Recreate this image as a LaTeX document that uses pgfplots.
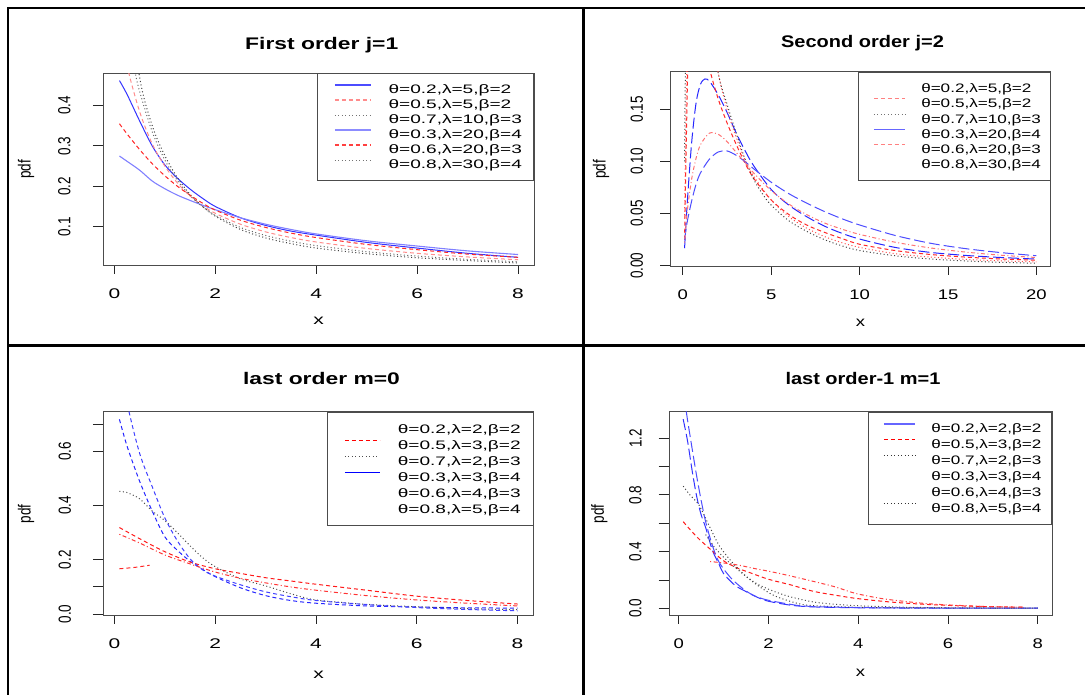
\documentclass[border=0pt]{standalone}
\usepackage{fontspec}
\setmainfont{Liberation Sans}
\newfontfamily\fN{Liberation Sans}
\newfontfamily\fL{Liberation Sans}[FakeStretch=1.5]
\newfontfamily\fR{Liberation Sans}[FakeStretch=1.32]
\newfontfamily\tL{Liberation Sans}[FakeStretch=1.36]
\newfontfamily\tR{Liberation Sans}[FakeStretch=1.19]
\newfontfamily\lL{Liberation Sans}[FakeStretch=1.55]
\newfontfamily\lR{Liberation Sans}[FakeStretch=1.39]
\usepackage{graphicx}
\usepackage{pgfplots}
\pgfplotsset{compat=1.18}

% rotated labels: R output was stretched sideways
\newcommand{\rl}[1]{\scalebox{1}[1.3]{\fN\fontsize{13.5}{14}\selectfont #1}}

\tikzset{
  rdash/.style={dash pattern=on 4pt off 3pt},
  rdot/.style={dash pattern=on 1pt off 2.5pt},
  rlong/.style={dash pattern=on 11pt off 4pt},
  rdashdot/.style={dash pattern=on 1pt off 2.5pt on 4pt off 2.5pt},
}

\pgfplotsset{
  rbase/.style={
    scale only axis, anchor=south west, clip=true,
    axis line style={black!70, line width=0.9pt},
    tick pos=left, tick align=outside,
    tick style={black!85, line width=0.9pt},
    xtick style={/pgfplots/major tick length=8pt},
    ytick style={/pgfplots/major tick length=10.5pt},
    minor tick num=0, scaled ticks=false,
    legend cell align=left,
  },
  % #1 left pad, #2 sample length, #3 gap, #4 text width, #5 text height, #6 text depth
  rleg/.style n args={6}{
    legend style={at={(1,1)}, anchor=north east, draw=black!70, line width=0.9pt,
      fill=white, inner xsep=0pt, row sep=0pt,
      nodes={inner sep=0pt, text width=#4, align=left, text height=#5, text depth=#6},
      /tikz/every odd column/.append style={column sep=#3}},
    legend image code/.code={\path[draw=none] (0pt,0pt) -- (#1+#2,0pt);
      \draw[line cap=butt, ##1] (#1,4.5pt) -- (#1+#2,4.5pt);},
  },
}

\begin{document}
\begin{tikzpicture}[x=1pt,y=1pt]
\useasboundingbox (0,0) rectangle (1085,695);

% table frame
\draw[line width=2.7pt] (8,0) -- (8,687) -- (1085,687);
\draw[line width=2.7pt] (583.5,0) -- (583.5,687);
\draw[line width=2.7pt] (8,349.5) -- (1085,349.5);

%------------------------------------------------ First order
\begin{axis}[rbase,
  at={(103.5pt,429.3pt)}, width=430.5pt, height=192.4pt,
  xmin=-0.216, xmax=8.316, ymin=0.0033, ymax=0.480,
  xtick={0,2,4,6,8}, xticklabels={0,2,4,6,8},
  ytick={0.1,0.2,0.3,0.4}, yticklabels={\rl{0.1},\rl{0.2},\rl{0.3},\rl{0.4}},
  xticklabel style={font=\fL\fontsize{14}{14}\selectfont, anchor=base, yshift=-28.5pt},
  yticklabel style={xshift=-34.9pt, rotate=90, anchor=center},
  title={First order j=1},
  every axis title/.style={at={(axis description cs:0.5,1)}, anchor=base, yshift=24pt, xshift=3pt,
    font=\tL\bfseries\fontsize{16.8}{18}\selectfont},
  xlabel={x},
  every axis x label/.style={at={(axis description cs:0.5,0)}, anchor=base, yshift=-58.6pt,
    font=\fL\fontsize{14}{14}\selectfont},
  ylabel={\rl{pdf}},
  every axis y label/.style={at={(axis description cs:-0.180,0.5)}, rotate=90, anchor=center},
  rleg={17.7pt}{35.7pt}{17.3pt}{145pt}{11.9pt}{3.1pt},
  legend style={inner ysep=8.35pt, font=\lL\fontsize{12.3}{14}\selectfont},
]
\addplot[forget plot, smooth, blue!80, line width=1pt] coordinates {
(0.1,0.462)(0.25,0.428)(0.5,0.362)(0.75,0.300)(1,0.253)(1.25,0.220)(1.5,0.193)(1.75,0.170)
(2,0.150)(2.5,0.122)(3,0.103)(3.5,0.089)(4,0.079)(5,0.061)(6,0.047)(7,0.034)(8,0.024)};
\addplot[forget plot, smooth, red!45, line width=1pt, rdash] coordinates {
(0.1,0.620)(0.25,0.500)(0.5,0.385)(0.75,0.305)(1,0.250)(1.25,0.208)(1.5,0.176)(1.75,0.152)
(2,0.133)(2.5,0.106)(3,0.087)(3.5,0.073)(4,0.062)(5,0.046)(6,0.034)(7,0.025)(8,0.018)};
\addplot[forget plot, smooth, black!75, line width=1pt, rdot] coordinates {
(0.1,0.900)(0.25,0.720)(0.5,0.470)(0.75,0.350)(1,0.276)(1.25,0.221)(1.5,0.180)(1.75,0.150)
(2,0.126)(2.5,0.093)(3,0.072)(3.5,0.058)(4,0.047)(5,0.033)(6,0.023)(7,0.016)(8,0.010)};
\addplot[forget plot, smooth, blue!50, line width=1.1pt] coordinates {
(0.1,0.275)(0.25,0.262)(0.5,0.240)(0.75,0.213)(1,0.194)(1.25,0.178)(1.5,0.165)(1.75,0.153)
(2,0.142)(2.5,0.122)(3,0.106)(3.5,0.093)(4,0.082)(5,0.065)(6,0.052)(7,0.040)(8,0.031)};
\addplot[forget plot, smooth, red!85, line width=1pt, rdash] coordinates {
(0.1,0.355)(0.25,0.330)(0.5,0.291)(0.75,0.256)(1,0.226)(1.25,0.200)(1.5,0.178)(1.75,0.158)
(2,0.141)(2.5,0.116)(3,0.098)(3.5,0.084)(4,0.073)(5,0.056)(6,0.043)(7,0.032)(8,0.024)};
\addplot[forget plot, smooth, black!60, line width=1pt, rdot] coordinates {
(0.1,0.760)(0.25,0.600)(0.4,0.490)(0.5,0.435)(0.75,0.335)(1,0.265)(1.25,0.214)(1.5,0.177)
(1.75,0.149)(2,0.128)(2.5,0.098)(3,0.078)(3.5,0.064)(4,0.053)(5,0.038)(6,0.027)(7,0.019)(8,0.013)};
\addlegendimage{draw=blue!70, line width=1.2pt}
\addlegendentry{θ=0.2,λ=5,β=2}
\addlegendimage{draw=red!45, line width=1.2pt, rdash}
\addlegendentry{θ=0.5,λ=5,β=2}
\addlegendimage{draw=black!55, line width=1pt, rdot}
\addlegendentry{θ=0.7,λ=10,β=3}
\addlegendimage{draw=blue!45, line width=1.4pt}
\addlegendentry{θ=0.3,λ=20,β=4}
\addlegendimage{draw=red!75, line width=1.2pt, rdash}
\addlegendentry{θ=0.6,λ=20,β=3}
\addlegendimage{draw=black!55, line width=1pt, rdot}
\addlegendentry{θ=0.8,λ=30,β=4}
\end{axis}

%------------------------------------------------ Second order
\begin{axis}[rbase,
  at={(670.5pt,428.3pt)}, width=380pt, height=195pt,
  xmin=-0.696, xmax=20.796, ymin=-0.001, ymax=0.186,
  xtick={0,5,10,15,20}, xticklabels={0,5,10,15,20},
  ytick={0,0.05,0.1,0.15}, yticklabels={\rl{0.00},\rl{0.05},\rl{0.10},\rl{0.15}},
  xticklabel style={font=\fR\fontsize{14}{14}\selectfont, anchor=base, yshift=-28.5pt},
  yticklabel style={xshift=-29.5pt, rotate=90, anchor=center},
  title={Second order j=2},
  every axis title/.style={at={(axis description cs:0.5,1)}, anchor=base, yshift=24.4pt, xshift=2pt,
    font=\tR\bfseries\fontsize{16.8}{18}\selectfont},
  xlabel={x},
  every axis x label/.style={at={(axis description cs:0.5,0)}, anchor=base, yshift=-60pt,
    font=\fR\fontsize{14}{14}\selectfont},
  ylabel={\rl{pdf}},
  every axis y label/.style={at={(axis description cs:-0.183,0.5)}, rotate=90, anchor=center},
  rleg={15pt}{31.7pt}{15pt}{128.8pt}{12.05pt}{3.25pt},
  legend style={inner ysep=8.25pt, font=\lR\fontsize{12.3}{14}\selectfont},
]
\addplot[forget plot, smooth, blue!85, line width=1pt, rlong] coordinates {
(0.1,0.0167)(0.25,0.060)(0.5,0.118)(0.75,0.156)(1,0.174)(1.25,0.179)(1.5,0.177)(2,0.164)
(2.5,0.147)(3,0.128)(3.5,0.111)(4,0.096)(5,0.073)(6,0.058)(7,0.047)(8,0.038)(9,0.031)
(10,0.0255)(12,0.0175)(14,0.0127)(16,0.0098)(18,0.0078)(20,0.0063)};
\addplot[forget plot, smooth, red!85, line width=1pt, rdash] coordinates {
(0.1,0.025)(0.2,0.120)(0.3,0.200)(0.5,0.260)(1,0.235)(1.5,0.190)(2,0.160)(2.5,0.137)
(3,0.117)(3.5,0.099)(4,0.084)(5,0.063)(6,0.049)(7,0.039)(8,0.032)(9,0.026)(10,0.0205)
(12,0.0145)(14,0.0107)(16,0.0082)(18,0.0064)(20,0.0052)};
\addplot[forget plot, smooth, black!75, line width=1pt, rdot] coordinates {
(0.1,0.100)(0.15,0.190)(0.3,0.320)(0.5,0.400)(1,0.370)(1.5,0.250)(2,0.185)(2.5,0.155)
(3,0.128)(3.5,0.103)(4,0.083)(4.5,0.069)(5,0.058)(6,0.043)(7,0.033)(8,0.025)(9,0.019)
(10,0.0145)(12,0.0095)(14,0.0064)(16,0.0045)(18,0.0032)(20,0.0023)};
\addplot[forget plot, smooth, blue!70, line width=1pt, rlong] coordinates {
(0.1,0.025)(0.25,0.042)(0.5,0.062)(0.75,0.078)(1,0.089)(1.5,0.102)(2,0.109)(2.5,0.110)
(3,0.106)(3.5,0.100)(4,0.093)(5,0.080)(6,0.069)(7,0.060)(8,0.052)(9,0.045)(10,0.039)
(12,0.029)(14,0.0215)(16,0.0163)(18,0.0125)(20,0.0095)};
\addplot[forget plot, smooth, red!55, line width=1pt, rdashdot] coordinates {
(0.1,0.022)(0.25,0.052)(0.5,0.083)(0.75,0.103)(1,0.116)(1.5,0.127)(2,0.126)(2.5,0.119)
(3,0.109)(3.5,0.099)(4,0.089)(5,0.072)(6,0.059)(7,0.049)(8,0.041)(9,0.035)(10,0.030)
(12,0.0225)(14,0.017)(16,0.013)(18,0.010)(20,0.0078)};
\addplot[forget plot, smooth, red!70, line width=1pt, rdot] coordinates {
(0.1,0.045)(0.2,0.170)(0.3,0.260)(0.5,0.330)(1,0.300)(1.5,0.240)(2,0.185)(2.5,0.150)
(3,0.124)(3.5,0.102)(4,0.086)(5,0.063)(6,0.047)(7,0.036)(8,0.028)(9,0.022)(10,0.0175)
(12,0.0115)(14,0.0082)(16,0.006)(18,0.0046)(20,0.0036)};
\addlegendimage{draw=white}
\addlegendentry{θ=0.2,λ=5,β=2}
\addlegendimage{draw=red!50, line width=1.2pt, rdash}
\addlegendentry{θ=0.5,λ=5,β=2}
\addlegendimage{draw=black!55, line width=1pt, rdot}
\addlegendentry{θ=0.7,λ=10,β=3}
\addlegendimage{draw=blue!60, line width=1.6pt}
\addlegendentry{θ=0.3,λ=20,β=4}
\addlegendimage{draw=red!50, line width=1.2pt, rdash}
\addlegendentry{θ=0.6,λ=20,β=3}
\addlegendimage{draw=white}
\addlegendentry{θ=0.8,λ=30,β=4}
\end{axis}

%------------------------------------------------ last order m=0
\begin{axis}[rbase,
  at={(103.5pt,79.3pt)}, width=430pt, height=204pt,
  xmin=-0.216, xmax=8.316, ymin=-0.006, ymax=0.746,
  xtick={0,2,4,6,8}, xticklabels={0,2,4,6,8},
  ytick={0,0.1,0.2,0.4,0.6,0.7}, yticklabels={\rl{0.0},,\rl{0.2},\rl{0.4},\rl{0.6},},
  xticklabel style={font=\fL\fontsize{14}{14}\selectfont, anchor=base, yshift=-29pt},
  yticklabel style={xshift=-34.3pt, rotate=90, anchor=center},
  title={last order m=0},
  every axis title/.style={at={(axis description cs:0.5,1)}, anchor=base, yshift=26.7pt, xshift=3pt,
    font=\tL\bfseries\fontsize{16.8}{18}\selectfont},
  xlabel={x},
  every axis x label/.style={at={(axis description cs:0.5,0)}, anchor=base, yshift=-62.6pt,
    font=\fL\fontsize{14}{14}\selectfont},
  ylabel={\rl{pdf}},
  every axis y label/.style={at={(axis description cs:-0.180,0.5)}, rotate=90, anchor=center},
  rleg={17.7pt}{35pt}{17.3pt}{135.2pt}{12.4pt}{3.6pt},
  legend style={inner ysep=8.65pt, font=\lL\fontsize{12.3}{14}\selectfont},
]
\addplot[forget plot, smooth, blue!85, line width=1pt, rdash] coordinates {
(0.1,0.718)(0.25,0.620)(0.5,0.490)(0.75,0.380)(1,0.285)(1.25,0.235)(1.5,0.195)(1.75,0.165)
(2,0.138)(2.5,0.097)(3,0.068)(3.5,0.050)(4,0.040)(5,0.030)(6,0.026)(7,0.023)(8,0.022)};
\addplot[forget plot, smooth, red!90, line width=1pt, rdash] coordinates {
(0.1,0.319)(0.5,0.278)(1,0.230)(1.5,0.192)(2,0.167)(2.5,0.150)(3,0.134)(3.5,0.122)
(4,0.110)(5,0.088)(6,0.066)(7,0.050)(8,0.037)};
\addplot[forget plot, smooth, black!70, line width=1pt, rdot] coordinates {
(0.1,0.452)(0.25,0.448)(0.5,0.425)(0.75,0.380)(1,0.345)(1.25,0.300)(1.5,0.252)(1.75,0.208)
(2,0.175)(2.5,0.130)(3,0.104)(3.5,0.075)(4,0.052)(5,0.036)(6,0.027)(7,0.020)(8,0.016)};
\addplot[forget plot, smooth, blue!75, line width=1pt, rdash] coordinates {
(0.1,0.950)(0.25,0.780)(0.5,0.593)(0.75,0.470)(1,0.355)(1.25,0.270)(1.5,0.204)(1.75,0.163)
(2,0.140)(2.5,0.108)(3,0.082)(3.5,0.064)(4,0.050)(5,0.035)(6,0.024)(7,0.017)(8,0.012)};
\addplot[forget plot, smooth, red!80, line width=1pt, rdashdot] coordinates {
(0.1,0.294)(0.5,0.262)(1,0.218)(1.5,0.185)(2,0.155)(2.5,0.132)(3,0.115)(3.5,0.100)
(4,0.088)(5,0.068)(6,0.052)(7,0.040)(8,0.030)};
\addplot[forget plot, smooth, red!85, line width=1pt, rdash] coordinates {
(0.1,0.167)(0.4,0.172)(0.7,0.180)};
\addlegendimage{draw=white}
\addlegendentry{θ=0.2,λ=2,β=2}
\addlegendimage{draw=red, line width=1.2pt, rdash}
\addlegendentry{θ=0.5,λ=3,β=2}
\addlegendimage{draw=black!70, line width=1pt, rdot}
\addlegendentry{θ=0.7,λ=2,β=3}
\addlegendimage{draw=blue, line width=1.3pt}
\addlegendentry{θ=0.3,λ=3,β=4}
\addlegendimage{draw=white}
\addlegendentry{θ=0.6,λ=4,β=3}
\addlegendimage{draw=white}
\addlegendentry{θ=0.8,λ=5,β=4}
\end{axis}

%------------------------------------------------ last order-1 m=1
\begin{axis}[rbase,
  at={(669pt,79.3pt)}, width=383pt, height=204pt,
  xmin=-0.216, xmax=8.316, ymin=-0.052, ymax=1.387,
  xtick={0,2,4,6,8}, xticklabels={0,2,4,6,8},
  ytick={0,0.2,0.4,0.6,0.8,1.0,1.2},
  yticklabels={\rl{0.0},,\rl{0.4},,\rl{0.8},,\rl{1.2}},
  xticklabel style={font=\fR\fontsize{14}{14}\selectfont, anchor=base, yshift=-29pt},
  yticklabel style={xshift=-29.3pt, rotate=90, anchor=center},
  title={last order-1 m=1},
  every axis title/.style={at={(axis description cs:0.5,1)}, anchor=base, yshift=26.7pt, xshift=2.5pt,
    font=\tR\bfseries\fontsize{16.8}{18}\selectfont},
  xlabel={x},
  every axis x label/.style={at={(axis description cs:0.5,0)}, anchor=base, yshift=-61pt,
    font=\fR\fontsize{14}{14}\selectfont},
  ylabel={\rl{pdf}},
  every axis y label/.style={at={(axis description cs:-0.182,0.5)}, rotate=90, anchor=center},
  rleg={15.7pt}{31.7pt}{15pt}{120.2pt}{12.4pt}{3.6pt},
  legend style={inner ysep=8.15pt, font=\lR\fontsize{12.3}{14}\selectfont},
]
\addplot[forget plot, smooth, blue!80, line width=1pt, rlong] coordinates {
(0.1,1.334)(0.2,1.175)(0.3,0.970)(0.4,0.790)(0.5,0.660)(0.6,0.570)(0.75,0.410)(0.9,0.310)
(1,0.245)(1.25,0.163)(1.5,0.118)(1.75,0.078)(2,0.050)(2.5,0.022)(3,0.010)(4,0.004)
(5,0.002)(6,0.0015)(7,0.0012)(8,0.001)};
\addplot[forget plot, smooth, red!90, line width=1pt, rdash] coordinates {
(0.1,0.611)(0.4,0.505)(0.7,0.418)(1,0.335)(1.3,0.285)(1.6,0.250)(2,0.205)(2.5,0.165)
(3,0.120)(3.5,0.092)(4,0.068)(4.7,0.045)(5.5,0.028)(6.5,0.015)(7.7,0.008)};
\addplot[forget plot, smooth, black!75, line width=1pt, rdot] coordinates {
(0.1,0.862)(0.25,0.800)(0.45,0.730)(0.67,0.588)(0.9,0.444)(1.19,0.325)(1.49,0.229)
(1.78,0.157)(2.15,0.086)(2.67,0.033)(3.04,0.018)(4,0.007)(5,0.004)(6,0.002)(7,0.001)(8,0.001)};
\addplot[forget plot, smooth, blue!70, line width=1pt, rlong] coordinates {
(0.1,1.600)(0.17,1.387)(0.27,1.184)(0.38,0.970)(0.49,0.778)(0.6,0.611)(0.75,0.444)
(0.9,0.325)(1.19,0.205)(1.56,0.110)(1.93,0.062)(2.67,0.019)(3,0.012)(4,0.005)(5,0.003)
(6,0.002)(7,0.0015)(8,0.001)};
\addplot[forget plot, smooth, red!75, line width=1pt, rdashdot] coordinates {
(0.7,0.330)(1,0.320)(1.33,0.305)(1.7,0.280)(2,0.262)(2.4,0.235)(3,0.190)(3.5,0.150)
(3.93,0.106)(4.5,0.070)(5,0.050)(5.46,0.035)(6,0.024)(7,0.011)(7.7,0.008)};
\addplot[forget plot, smooth, black!70, line width=1pt, rdot] coordinates {
(0.6,0.520)(0.8,0.430)(1,0.360)(1.25,0.290)(1.5,0.225)(1.75,0.172)(2,0.135)(2.25,0.105)
(2.5,0.080)(3,0.045)(3.5,0.028)(4,0.018)(5,0.008)(6,0.004)(7,0.002)(8,0.001)};
\addlegendimage{draw=blue!60, line width=1.8pt}
\addlegendentry{θ=0.2,λ=2,β=2}
\addlegendimage{draw=red, line width=1.2pt, rdash}
\addlegendentry{θ=0.5,λ=3,β=2}
\addlegendimage{draw=black!80, line width=1pt, rdot}
\addlegendentry{θ=0.7,λ=2,β=3}
\addlegendimage{draw=white}
\addlegendentry{θ=0.3,λ=3,β=4}
\addlegendimage{draw=white}
\addlegendentry{θ=0.6,λ=4,β=3}
\addlegendimage{draw=black!80, line width=1pt, rdot}
\addlegendentry{θ=0.8,λ=5,β=4}
\end{axis}
\end{tikzpicture}
\end{document}
